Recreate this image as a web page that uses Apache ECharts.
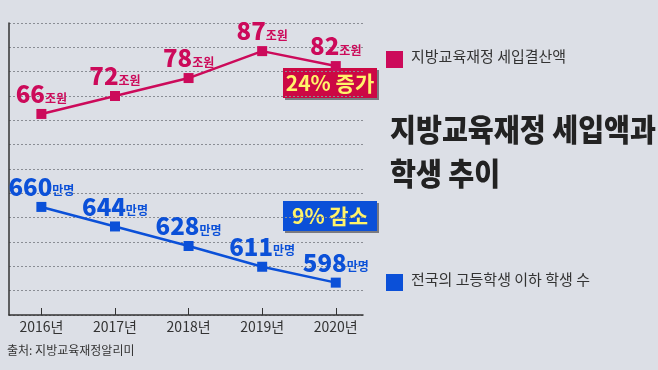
<!DOCTYPE html>
<html><head><meta charset="utf-8">
<script src="https://cdn.jsdelivr.net/npm/echarts@6/dist/echarts.min.js"></script>
<style>html,body{margin:0;padding:0;background:#dcdfe6;}#c{width:658px;height:370px;}</style>
</head><body><div id="c"></div>
<script>
var years = ['2016', '2017', '2018', '2019', '2020'];
var revenue = [66, 72, 78, 87, 82];      // 조원
var students = [660, 644, 628, 611, 598]; // 만명
var revenueName = '지방교육재정 세입결산액';
var studentName = '전국의 고등학생 이하 학생 수';
var titleLines = ['지방교육재정 세입액과', '학생 추이'];
var revenueNote = '24% 증가';
var studentNote = '9% 감소';
var source = '출처: 지방교육재정알리미';

var RED = '#cc0a5a', BLUE = '#0b50d8', FONT = '"Noto Sans CJK KR", "Noto Sans", sans-serif';
var chart = echarts.init(document.getElementById('c'));

function pts(arr){ return arr.map(function(v,i){ return [i, v]; }); }
function lbl(color, unit){
  return {
    show: true, position: 'top', distance: 3,
    formatter: function(p){ return '{n|' + p.value[1] + '}{u|' + unit + '}'; },
    rich: {
      n: {fontFamily: FONT, fontSize: 24, fontWeight: 900, color: color, verticalAlign: 'bottom', lineHeight: 25},
      u: {fontFamily: FONT, fontSize: 12, fontWeight: 'bold', color: color, verticalAlign: 'bottom', lineHeight: 20, padding:[0,0,2,0]}
    }
  };
}

chart.setOption({
  backgroundColor: '#dcdfe6',
  animation: false,
  grid: {left: 9, right: 295, top: 23, bottom: 55},
  xAxis: {
    type: 'value', min: -0.44, max: 4.37,
    splitLine: {show: false},
    axisLine: {show: true, onZero: false, lineStyle: {color: '#333', width: 1.5}},
    axisTick: {show: true, inside: true, length: 7, customValues: [0,1,2,3,4], lineStyle: {color: '#333'}},
    axisLabel: {customValues: [0,1,2,3,4], margin: 5, fontFamily: FONT, fontSize: 14, color: '#333',
      formatter: function(v){ return years[Math.round(v)] + '년'; }}
  },
  yAxis: [
    {type: 'value', min: 0, max: 12, interval: 1,
     axisLine: {show: true, onZero: false, lineStyle: {color: '#333', width: 1.5}},
     axisTick: {show: false}, axisLabel: {show: false},
     splitLine: {show: true, lineStyle: {color: '#8a8d94', type: [2, 2], width: 1}}},
    {type: 'value', min: -1.2, max: 96.4, show: false, splitLine: {show: false}},
    {type: 'value', min: 571.5, max: 810.6, show: false, splitLine: {show: false}}
  ],
  series: [
    {name: revenueName, type: 'line', yAxisIndex: 1, data: pts(revenue),
     symbol: 'rect', symbolSize: 10, lineStyle: {color: RED, width: 2.5}, itemStyle: {color: RED},
     label: lbl(RED, '조원')},
    {name: studentName, type: 'line', yAxisIndex: 2, data: pts(students),
     symbol: 'rect', symbolSize: 10, lineStyle: {color: BLUE, width: 2.5}, itemStyle: {color: BLUE},
     label: lbl(BLUE, '만명')}
  ],
  graphic: [
    {type: 'rect', left: 386, top: 51, shape: {width: 17, height: 17}, style: {fill: RED}},
    {type: 'text', left: 411, top: 49, style: {text: revenueName, font: '15px ' + FONT, fill: '#333'}},
    {type: 'rect', left: 386, top: 274, shape: {width: 17, height: 17}, style: {fill: BLUE}},
    {type: 'text', left: 411, top: 272, style: {text: studentName, font: '15px ' + FONT, fill: '#333'}},
    {type: 'text', x: 390, y: 114, scaleX: 0.91, style: {text: titleLines[0], font: '900 31px ' + FONT, fill: '#222'}},
    {type: 'text', x: 390, y: 158, scaleX: 0.91, style: {text: titleLines[1], font: '900 31px ' + FONT, fill: '#222'}},
    {type: 'rect', shape: {x: 285, y: 70, width: 94, height: 30}, style: {fill: '#7a7a80'}},
    {type: 'rect', shape: {x: 283, y: 68, width: 94, height: 30}, style: {fill: '#cc0844'}},
    {type: 'text', x: 330, y: 83, style: {text: revenueNote, font: 'bold 21px ' + FONT, fill: '#fff36a', align: 'center', verticalAlign: 'middle'}},
    {type: 'rect', shape: {x: 285, y: 203, width: 94, height: 30}, style: {fill: '#7a7a80'}},
    {type: 'rect', shape: {x: 283, y: 201, width: 94, height: 30}, style: {fill: '#0b50d8'}},
    {type: 'text', x: 330, y: 216, style: {text: studentNote, font: 'bold 21px ' + FONT, fill: '#fff36a', align: 'center', verticalAlign: 'middle'}},
    {type: 'text', left: 7, top: 344, style: {text: source, font: '12px ' + FONT, fill: '#333'}}
  ]
});
</script></body></html>
